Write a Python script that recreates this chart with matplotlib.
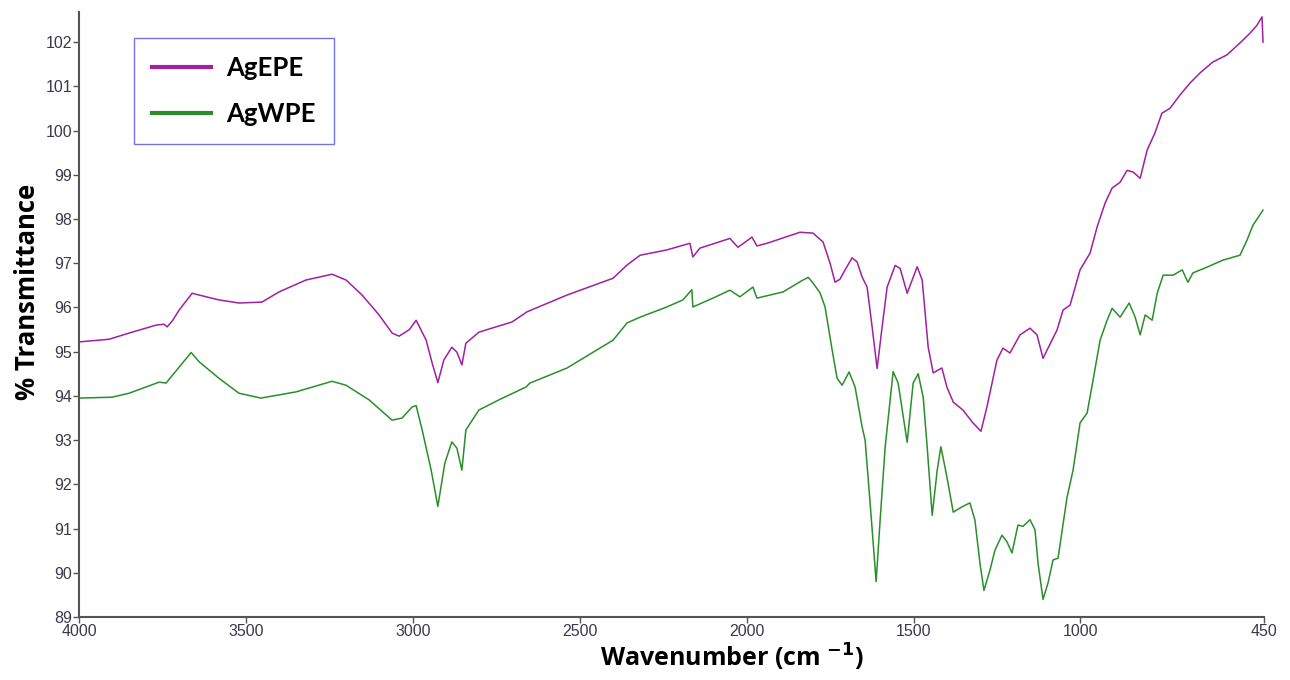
import matplotlib
matplotlib.use("Agg")
import matplotlib.pyplot as plt
from matplotlib.ticker import FixedLocator

# ---- data ----
wn_agepe = [4000, 3910, 3850, 3769, 3745, 3736, 3720, 3700, 3661, 3640, 3581, 3521, 3452, 3401,
            3320, 3242, 3200, 3152, 3101, 3062, 3041, 3010, 2990, 2960, 2942, 2925, 2907, 2883,
            2868, 2853, 2841, 2802, 2751, 2703, 2658, 2538, 2400, 2358, 2319, 2239, 2170, 2161,
            2140, 2050, 2026, 2000, 1984, 1969, 1939, 1840, 1801, 1771, 1750, 1735, 1720, 1705,
            1684, 1669, 1654, 1639, 1624, 1609, 1594, 1579, 1555, 1540, 1519, 1504, 1489, 1474,
            1456, 1441, 1415, 1400, 1381, 1352, 1322, 1298, 1280, 1250, 1232, 1211, 1181, 1151,
            1130, 1112, 1097, 1070, 1052, 1031, 1001, 971, 950, 926, 905, 881, 860, 842, 821,
            800, 777, 756, 732, 702, 672, 642, 603, 561, 522, 492, 471, 456, 453]
t_agepe = [95.22, 95.28, 95.42, 95.60, 95.62, 95.56, 95.70, 95.94, 96.32, 96.28, 96.17, 96.10, 96.12, 96.35,
           96.62, 96.75, 96.62, 96.28, 95.83, 95.42, 95.35, 95.50, 95.71, 95.26, 94.74, 94.30, 94.81, 95.10,
           94.99, 94.70, 95.19, 95.44, 95.56, 95.67, 95.90, 96.28, 96.66, 96.96, 97.18, 97.30, 97.45, 97.14,
           97.34, 97.56, 97.36, 97.50, 97.59, 97.39, 97.45, 97.70, 97.68, 97.48, 97.00, 96.57, 96.64, 96.85,
           97.12, 97.03, 96.69, 96.46, 95.56, 94.62, 95.56, 96.46, 96.95, 96.88, 96.32, 96.62, 96.92, 96.62,
           95.10, 94.52, 94.63, 94.20, 93.86, 93.68, 93.39, 93.20, 93.75, 94.81, 95.08, 94.97, 95.38, 95.53,
           95.38, 94.85, 95.08, 95.49, 95.94, 96.05, 96.85, 97.23, 97.82, 98.36, 98.70, 98.83, 99.10, 99.06, 98.92,
           99.56, 99.94, 100.39, 100.50, 100.80, 101.07, 101.30, 101.55, 101.71, 101.98, 102.20, 102.38, 102.57, 102.00]

wn_agwpe = [4000, 3901, 3850, 3760, 3739, 3724, 3664, 3640, 3581, 3521, 3455, 3350, 3242, 3200, 3131,
            3062, 3032, 3002, 2990, 2972, 2945, 2925, 2904, 2883, 2868, 2853, 2841, 2802, 2742, 2661,
            2649, 2538, 2400, 2358, 2319, 2239, 2191, 2164, 2161, 2101, 2050, 2020, 1981, 1969, 1891,
            1831, 1815, 1801, 1780, 1765, 1744, 1729, 1714, 1693, 1675, 1654, 1645, 1630, 1612, 1600,
            1585, 1561, 1546, 1519, 1501, 1486, 1471, 1459, 1444, 1429, 1418, 1400, 1381, 1355, 1331,
            1316, 1301, 1289, 1271, 1256, 1235, 1220, 1205, 1187, 1172, 1151, 1136, 1127, 1112, 1097,
            1082, 1067, 1040, 1022, 1001, 980, 962, 941, 920, 905, 881, 854, 836, 821, 806, 785, 770,
            752, 722, 695, 678, 663, 621, 573, 522, 501, 483, 453]
t_agwpe = [93.95, 93.97, 94.06, 94.31, 94.29, 94.43, 94.98, 94.77, 94.40, 94.06, 93.95, 94.09, 94.33, 94.24, 93.91,
           93.45, 93.50, 93.75, 93.78, 93.23, 92.32, 91.50, 92.48, 92.96, 92.82, 92.32, 93.23, 93.68, 93.91, 94.20,
           94.29, 94.63, 95.26, 95.65, 95.78, 96.01, 96.17, 96.40, 96.01, 96.21, 96.39, 96.24, 96.46, 96.21, 96.35,
           96.62, 96.68, 96.55, 96.33, 96.01, 95.05, 94.40, 94.24, 94.54, 94.20, 93.30, 93.00, 91.58, 89.80, 91.19,
           92.84, 94.55, 94.29, 92.95, 94.29, 94.50, 93.97, 92.84, 91.30, 92.32, 92.85, 92.17, 91.37, 91.49, 91.58,
           91.19, 90.22, 89.60, 90.06, 90.51, 90.85, 90.70, 90.45, 91.08, 91.05, 91.20, 90.97, 90.22, 89.40, 89.77,
           90.29, 90.33, 91.71, 92.32, 93.39, 93.61, 94.36, 95.26, 95.71, 95.98, 95.78, 96.10, 95.78, 95.38, 95.83, 95.71, 96.32,
           96.73, 96.73, 96.85, 96.57, 96.78, 96.91, 97.07, 97.18, 97.52, 97.86, 98.20]

series_labels = ["AgEPE", "AgWPE"]
x_ticks = [4000, 3500, 3000, 2500, 2000, 1500, 1000, 450]
y_ticks = list(range(89, 103))

# ---- figure ----
W, H = 1290, 680
fig = plt.figure(figsize=(W / 100, H / 100), dpi=100)
ax = fig.add_axes([79 / W, 1 - 617 / H, (1264 - 79) / W, (617 - 12) / H])

ax.plot(wn_agepe, t_agepe, color="#a020a0", lw=1.1, label=series_labels[0])
ax.plot(wn_agwpe, t_agwpe, color="#2a8f2a", lw=1.1, label=series_labels[1])

ax.set_xlim(4000, 450)
ax.set_ylim(89, 102.68)
ax.xaxis.set_major_locator(FixedLocator(x_ticks))
ax.yaxis.set_major_locator(FixedLocator(y_ticks))
ax.set_xticklabels([str(v) for v in x_ticks])
ax.set_yticklabels([str(v) for v in y_ticks])

for s in ["top", "right"]:
    ax.spines[s].set_visible(False)
for s in ["left", "bottom"]:
    ax.spines[s].set_color("#555555")
    ax.spines[s].set_linewidth(1.5)

tick_font = ["Liberation Sans Narrow", "Liberation Sans", "DejaVu Sans"]
ax.tick_params(axis="both", direction="out", length=4, width=1, color="#555555",
               labelcolor="#3a3a4a", labelsize=11.5, pad=1)
for lab in ax.get_xticklabels() + ax.get_yticklabels():
    lab.set_family(tick_font)

label_font = ["Open Sans", "DejaVu Sans"]
ax.set_ylabel("% Transmittance", fontsize=18.5, fontweight="bold", family=label_font)
ax.set_xlabel(r"Wavenumber (cm $^{\mathbf{-1}}$)", fontsize=18, fontweight="bold", family=label_font)
ax.yaxis.set_label_coords((41 - 79) / 1185, 0.537)
ax.xaxis.set_label_coords(0.551, (617 - 642) / 605)

leg = ax.legend(loc="upper left", bbox_to_anchor=(134 / W, 1 - 38 / H), bbox_transform=fig.transFigure,
                prop={"family": ["Lato", "DejaVu Sans"], "weight": "bold", "size": 18.5},
                frameon=True, fancybox=False, handlelength=2.3, handletextpad=0.6,
                labelspacing=0.85, borderpad=0.7, borderaxespad=0)
leg.get_frame().set_edgecolor("#5050e0")
leg.get_frame().set_linewidth(1.0)
for h in leg.get_lines():
    h.set_linewidth(3)

fig.savefig("out.png", dpi=100)
